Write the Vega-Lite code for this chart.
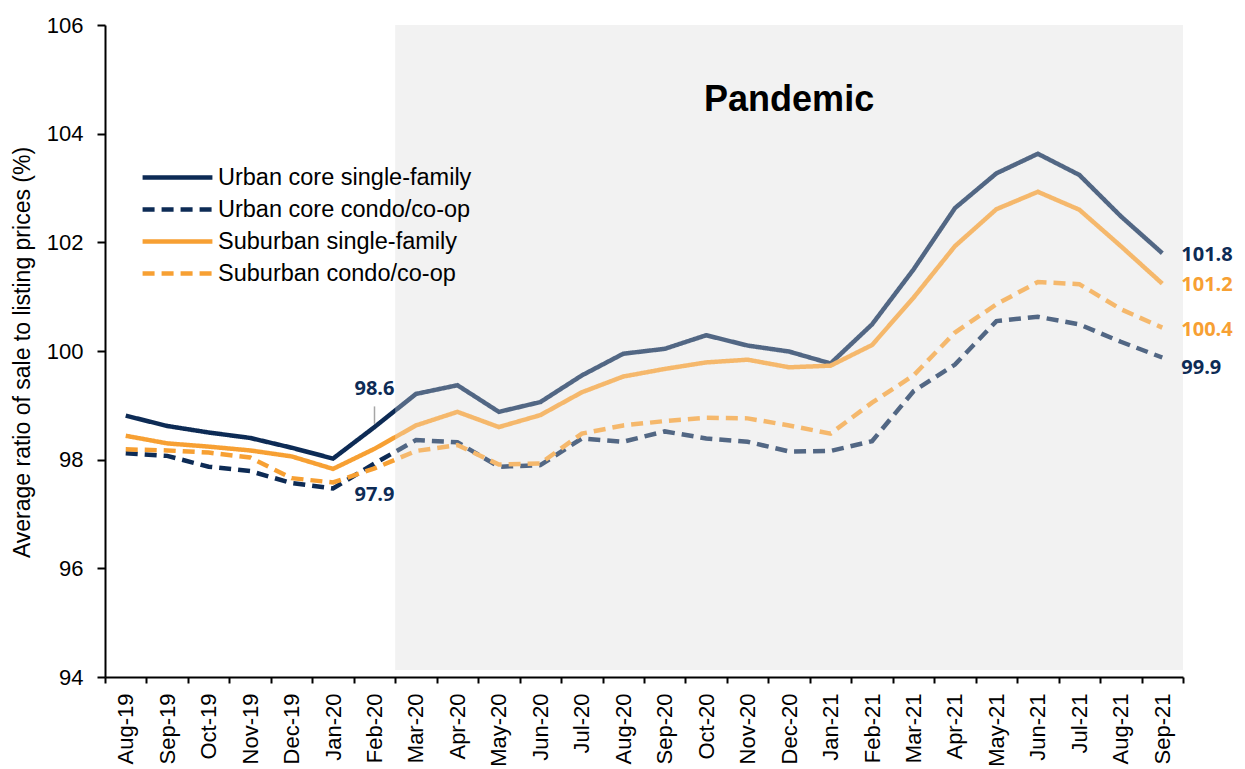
{
  "$schema": "https://vega.github.io/schema/vega-lite/v6.json",
  "autosize": "none",
  "width": 1078,
  "height": 652,
  "padding": {"left": 105, "top": 25, "right": 62, "bottom": 92},
  "background": "white",
  "config": {"view": {"stroke": null}},
  "datasets": {
    "series": [
      {"month": "Aug-19", "series": "Urban core single-family", "value": 98.81},
      {"month": "Sep-19", "series": "Urban core single-family", "value": 98.62},
      {"month": "Oct-19", "series": "Urban core single-family", "value": 98.50},
      {"month": "Nov-19", "series": "Urban core single-family", "value": 98.40},
      {"month": "Dec-19", "series": "Urban core single-family", "value": 98.22},
      {"month": "Jan-20", "series": "Urban core single-family", "value": 98.02},
      {"month": "Feb-20", "series": "Urban core single-family", "value": 98.60},
      {"month": "Mar-20", "series": "Urban core single-family", "value": 99.21},
      {"month": "Apr-20", "series": "Urban core single-family", "value": 99.37},
      {"month": "May-20", "series": "Urban core single-family", "value": 98.88},
      {"month": "Jun-20", "series": "Urban core single-family", "value": 99.06},
      {"month": "Jul-20", "series": "Urban core single-family", "value": 99.55},
      {"month": "Aug-20", "series": "Urban core single-family", "value": 99.95},
      {"month": "Sep-20", "series": "Urban core single-family", "value": 100.04},
      {"month": "Oct-20", "series": "Urban core single-family", "value": 100.29},
      {"month": "Nov-20", "series": "Urban core single-family", "value": 100.10},
      {"month": "Dec-20", "series": "Urban core single-family", "value": 99.99},
      {"month": "Jan-21", "series": "Urban core single-family", "value": 99.77},
      {"month": "Feb-21", "series": "Urban core single-family", "value": 100.49},
      {"month": "Mar-21", "series": "Urban core single-family", "value": 101.50},
      {"month": "Apr-21", "series": "Urban core single-family", "value": 102.63},
      {"month": "May-21", "series": "Urban core single-family", "value": 103.27},
      {"month": "Jun-21", "series": "Urban core single-family", "value": 103.63},
      {"month": "Jul-21", "series": "Urban core single-family", "value": 103.24},
      {"month": "Aug-21", "series": "Urban core single-family", "value": 102.48},
      {"month": "Sep-21", "series": "Urban core single-family", "value": 101.80},

      {"month": "Aug-19", "series": "Urban core condo/co-op", "value": 98.12},
      {"month": "Sep-19", "series": "Urban core condo/co-op", "value": 98.07},
      {"month": "Oct-19", "series": "Urban core condo/co-op", "value": 97.87},
      {"month": "Nov-19", "series": "Urban core condo/co-op", "value": 97.79},
      {"month": "Dec-19", "series": "Urban core condo/co-op", "value": 97.57},
      {"month": "Jan-20", "series": "Urban core condo/co-op", "value": 97.47},
      {"month": "Feb-20", "series": "Urban core condo/co-op", "value": 97.93},
      {"month": "Mar-20", "series": "Urban core condo/co-op", "value": 98.36},
      {"month": "Apr-20", "series": "Urban core condo/co-op", "value": 98.32},
      {"month": "May-20", "series": "Urban core condo/co-op", "value": 97.87},
      {"month": "Jun-20", "series": "Urban core condo/co-op", "value": 97.90},
      {"month": "Jul-20", "series": "Urban core condo/co-op", "value": 98.39},
      {"month": "Aug-20", "series": "Urban core condo/co-op", "value": 98.33},
      {"month": "Sep-20", "series": "Urban core condo/co-op", "value": 98.52},
      {"month": "Oct-20", "series": "Urban core condo/co-op", "value": 98.39},
      {"month": "Nov-20", "series": "Urban core condo/co-op", "value": 98.33},
      {"month": "Dec-20", "series": "Urban core condo/co-op", "value": 98.15},
      {"month": "Jan-21", "series": "Urban core condo/co-op", "value": 98.16},
      {"month": "Feb-21", "series": "Urban core condo/co-op", "value": 98.34},
      {"month": "Mar-21", "series": "Urban core condo/co-op", "value": 99.26},
      {"month": "Apr-21", "series": "Urban core condo/co-op", "value": 99.75},
      {"month": "May-21", "series": "Urban core condo/co-op", "value": 100.55},
      {"month": "Jun-21", "series": "Urban core condo/co-op", "value": 100.63},
      {"month": "Jul-21", "series": "Urban core condo/co-op", "value": 100.49},
      {"month": "Aug-21", "series": "Urban core condo/co-op", "value": 100.17},
      {"month": "Sep-21", "series": "Urban core condo/co-op", "value": 99.88},

      {"month": "Aug-19", "series": "Suburban single-family", "value": 98.44},
      {"month": "Sep-19", "series": "Suburban single-family", "value": 98.30},
      {"month": "Oct-19", "series": "Suburban single-family", "value": 98.24},
      {"month": "Nov-19", "series": "Suburban single-family", "value": 98.17},
      {"month": "Dec-19", "series": "Suburban single-family", "value": 98.06},
      {"month": "Jan-20", "series": "Suburban single-family", "value": 97.83},
      {"month": "Feb-20", "series": "Suburban single-family", "value": 98.20},
      {"month": "Mar-20", "series": "Suburban single-family", "value": 98.63},
      {"month": "Apr-20", "series": "Suburban single-family", "value": 98.88},
      {"month": "May-20", "series": "Suburban single-family", "value": 98.60},
      {"month": "Jun-20", "series": "Suburban single-family", "value": 98.82},
      {"month": "Jul-20", "series": "Suburban single-family", "value": 99.24},
      {"month": "Aug-20", "series": "Suburban single-family", "value": 99.53},
      {"month": "Sep-20", "series": "Suburban single-family", "value": 99.67},
      {"month": "Oct-20", "series": "Suburban single-family", "value": 99.79},
      {"month": "Nov-20", "series": "Suburban single-family", "value": 99.84},
      {"month": "Dec-20", "series": "Suburban single-family", "value": 99.70},
      {"month": "Jan-21", "series": "Suburban single-family", "value": 99.73},
      {"month": "Feb-21", "series": "Suburban single-family", "value": 100.11},
      {"month": "Mar-21", "series": "Suburban single-family", "value": 100.98},
      {"month": "Apr-21", "series": "Suburban single-family", "value": 101.93},
      {"month": "May-21", "series": "Suburban single-family", "value": 102.61},
      {"month": "Jun-21", "series": "Suburban single-family", "value": 102.93},
      {"month": "Jul-21", "series": "Suburban single-family", "value": 102.60},
      {"month": "Aug-21", "series": "Suburban single-family", "value": 101.93},
      {"month": "Sep-21", "series": "Suburban single-family", "value": 101.24},

      {"month": "Aug-19", "series": "Suburban condo/co-op", "value": 98.19},
      {"month": "Sep-19", "series": "Suburban condo/co-op", "value": 98.17},
      {"month": "Oct-19", "series": "Suburban condo/co-op", "value": 98.13},
      {"month": "Nov-19", "series": "Suburban condo/co-op", "value": 98.04},
      {"month": "Dec-19", "series": "Suburban condo/co-op", "value": 97.66},
      {"month": "Jan-20", "series": "Suburban condo/co-op", "value": 97.58},
      {"month": "Feb-20", "series": "Suburban condo/co-op", "value": 97.84},
      {"month": "Mar-20", "series": "Suburban condo/co-op", "value": 98.16},
      {"month": "Apr-20", "series": "Suburban condo/co-op", "value": 98.27},
      {"month": "May-20", "series": "Suburban condo/co-op", "value": 97.91},
      {"month": "Jun-20", "series": "Suburban condo/co-op", "value": 97.93},
      {"month": "Jul-20", "series": "Suburban condo/co-op", "value": 98.48},
      {"month": "Aug-20", "series": "Suburban condo/co-op", "value": 98.63},
      {"month": "Sep-20", "series": "Suburban condo/co-op", "value": 98.71},
      {"month": "Oct-20", "series": "Suburban condo/co-op", "value": 98.77},
      {"month": "Nov-20", "series": "Suburban condo/co-op", "value": 98.76},
      {"month": "Dec-20", "series": "Suburban condo/co-op", "value": 98.63},
      {"month": "Jan-21", "series": "Suburban condo/co-op", "value": 98.48},
      {"month": "Feb-21", "series": "Suburban condo/co-op", "value": 99.05},
      {"month": "Mar-21", "series": "Suburban condo/co-op", "value": 99.55},
      {"month": "Apr-21", "series": "Suburban condo/co-op", "value": 100.34},
      {"month": "May-21", "series": "Suburban condo/co-op", "value": 100.86},
      {"month": "Jun-21", "series": "Suburban condo/co-op", "value": 101.27},
      {"month": "Jul-21", "series": "Suburban condo/co-op", "value": 101.23},
      {"month": "Aug-21", "series": "Suburban condo/co-op", "value": 100.77},
      {"month": "Sep-21", "series": "Suburban condo/co-op", "value": 100.43}
    ],
    "period": [{"month": "Mar-20", "end": "Sep-21", "top": 106, "bottom": 94.13}],
    "navylabels": [
      {"month": "Feb-20", "value": 99.30, "text": "98.6", "pos": "mid"},
      {"month": "Feb-20", "value": 97.35, "text": "97.9", "pos": "mid"},
      {"month": "Sep-21", "value": 101.77, "text": "101.8", "pos": "end"},
      {"month": "Sep-21", "value": 99.69, "text": "99.9", "pos": "end"}
    ],
    "orangelabels": [
      {"month": "Sep-21", "value": 101.21, "text": "101.2"},
      {"month": "Sep-21", "value": 100.39, "text": "100.4"}
    ],
    "leader": [{"month": "Feb-20", "value": 98.66, "value2": 98.98}],
    "title": [{"month": "Dec-20", "value": 104.62, "text": "Pandemic"}]
  },
  "encoding": {
    "x": {
      "field": "month", "type": "ordinal",
      "scale": {"domain": ["Aug-19","Sep-19","Oct-19","Nov-19","Dec-19","Jan-20","Feb-20","Mar-20","Apr-20","May-20","Jun-20","Jul-20","Aug-20","Sep-20","Oct-20","Nov-20","Dec-20","Jan-21","Feb-21","Mar-21","Apr-21","May-21","Jun-21","Jul-21","Aug-21","Sep-21"], "paddingInner": 0, "paddingOuter": 0},
      "axis": {
        "title": null, "labelAngle": 270, "labelAlign": "right", "labelBaseline": "middle",
        "labelFont": "Liberation Sans", "labelFontSize": 22, "labelColor": "black", "labelPadding": 10,
        "tickBand": "extent", "tickSize": 6, "tickWidth": 2, "tickColor": "black",
        "domainColor": "black", "domainWidth": 2, "grid": false, "labelOverlap": false
      }
    },
    "y": {
      "field": "value", "type": "quantitative",
      "scale": {"domain": [94, 106], "nice": false, "zero": false},
      "axis": {
        "values": [94, 96, 98, 100, 102, 104, 106],
        "title": "Average ratio of sale to listing prices (%)",
        "titleFont": "Liberation Sans", "titleFontSize": 23, "titleFontWeight": "normal", "titleColor": "black",
        "titleX": -71, "titleY": 327,
        "labelFont": "Liberation Sans", "labelFontSize": 22, "labelColor": "black", "labelPadding": 14,
        "tickSize": 8, "tickWidth": 2, "tickColor": "black",
        "domainColor": "black", "domainWidth": 2, "grid": false
      }
    }
  },
  "layer": [
    {
      "data": {"name": "period"},
      "mark": {"type": "rect", "color": "#f2f2f2"},
      "encoding": {
        "x": {"field": "month", "type": "ordinal", "bandPosition": 0},
        "x2": {"field": "end", "bandPosition": 1},
        "y": {"field": "top", "type": "quantitative"},
        "y2": {"field": "bottom"}
      }
    },
    {
      "data": {"name": "series"},
      "mark": {"type": "line", "strokeWidth": 4.5, "strokeCap": "butt", "strokeJoin": "miter"},
      "encoding": {
        "color": {
          "field": "series", "type": "nominal",
          "scale": {"domain": ["Urban core single-family", "Urban core condo/co-op", "Suburban single-family", "Suburban condo/co-op"], "range": ["#0d2b55", "#0d2b55", "#f7a033", "#f7a033"]},
          "legend": {"orient": "none", "legendX": 52, "legendY": 132, "title": null, "padding": 0,
            "labelFont": "Liberation Sans", "labelFontSize": 23.5, "labelColor": "black", "labelOffset": 20, "labelLimit": 0,
            "symbolType": "M-1.94,0H1.94", "symbolSize": 1296, "symbolStrokeWidth": 4.5, "rowPadding": 0}
        },
        "strokeDash": {
          "field": "series", "type": "nominal",
          "scale": {"domain": ["Urban core single-family", "Urban core condo/co-op", "Suburban single-family", "Suburban condo/co-op"], "range": [[1, 0], [12, 7], [1, 0], [12, 7]]},
          "legend": {"orient": "none", "legendX": 52, "legendY": 132, "title": null, "padding": 0,
            "labelFont": "Liberation Sans", "labelFontSize": 23.5, "labelColor": "black", "labelOffset": 20, "labelLimit": 0,
            "symbolType": "M-1.94,0H1.94", "symbolSize": 1296, "symbolStrokeWidth": 4.5, "rowPadding": 0}
        }
      }
    },
    {
      "data": {"name": "period"},
      "mark": {"type": "rect", "color": "#f2f2f2", "opacity": 0.3},
      "encoding": {
        "x": {"field": "month", "type": "ordinal", "bandPosition": 0},
        "x2": {"field": "end", "bandPosition": 1},
        "y": {"field": "top", "type": "quantitative"},
        "y2": {"field": "bottom"}
      }
    },
    {
      "data": {"name": "leader"},
      "mark": {"type": "rule", "color": "#a6a6a6", "strokeWidth": 1.5},
      "encoding": {
        "y2": {"field": "value2"}
      }
    },
    {
      "data": {"name": "navylabels"},
      "transform": [{"filter": "datum.pos == 'mid'"}],
      "mark": {"type": "text", "font": "Open Sans", "fontWeight": "bold", "fontSize": 20, "align": "center", "baseline": "middle", "color": "#0d2b55"},
      "encoding": {"text": {"field": "text"}}
    },
    {
      "data": {"name": "navylabels"},
      "transform": [{"filter": "datum.pos == 'end'"}],
      "mark": {"type": "text", "font": "Open Sans", "fontWeight": "bold", "fontSize": 20, "align": "left", "baseline": "middle", "dx": 19, "color": "#0d2b55"},
      "encoding": {"text": {"field": "text"}}
    },
    {
      "data": {"name": "orangelabels"},
      "mark": {"type": "text", "font": "Open Sans", "fontWeight": "bold", "fontSize": 20, "align": "left", "baseline": "middle", "dx": 19, "color": "#f7a033"},
      "encoding": {"text": {"field": "text"}}
    },
    {
      "data": {"name": "title"},
      "mark": {"type": "text", "font": "Liberation Sans", "fontWeight": "bold", "fontSize": 36, "align": "center", "baseline": "middle", "color": "black"},
      "encoding": {"text": {"field": "text"}}
    }
  ]
}
